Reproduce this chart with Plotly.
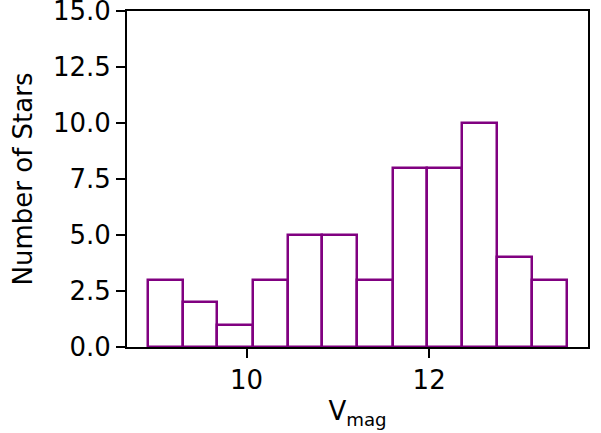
import plotly.graph_objects as go

# Histogram of stellar V magnitudes (pre-binned)
bin_edges = [8.92, 9.30, 9.68, 10.07, 10.45, 10.83, 11.21,
             11.60, 11.98, 12.36, 12.74, 13.13, 13.51]
star_counts = [3, 2, 1, 3, 5, 5, 3, 8, 8, 10, 4, 3]

y_ticks = [0, 2.5, 5.0, 7.5, 10.0, 12.5, 15.0]
x_ticks = [10, 12]

lefts = bin_edges[:-1]
widths = [b - a for a, b in zip(bin_edges[:-1], bin_edges[1:])]

FONT = "DejaVu Sans"
FSIZE = 26
PURPLE = "#800080"

fig = go.Figure(
    go.Bar(
        x=lefts,
        y=star_counts,
        width=widths,
        offset=0,
        marker=dict(color="white", line=dict(color=PURPLE, width=2.5)),
        hoverinfo="skip",
    )
)

axis_common = dict(
    showline=True,
    linecolor="black",
    linewidth=2,
    mirror=True,
    showgrid=False,
    zeroline=False,
    ticks="outside",
    ticklen=9,
    tickwidth=2,
    tickcolor="black",
    automargin=False,
    ticklabeloverflow="allow",
    tickfont=dict(family=FONT, size=FSIZE, color="black"),
)

fig.update_layout(
    width=601,
    height=433,
    margin=dict(l=127, r=13, t=11, b=86),
    paper_bgcolor="white",
    plot_bgcolor="white",
    showlegend=False,
    bargap=0,
    font=dict(family=FONT, size=FSIZE, color="black"),
    xaxis=dict(
        range=[8.69, 13.74],
        tickvals=x_ticks,
        ticktext=[str(t) for t in x_ticks],
        title=dict(text="V<sub>mag</sub>", standoff=8,
                   font=dict(family=FONT, size=FSIZE, color="black")),
        **axis_common,
    ),
    yaxis=dict(
        range=[0, 15],
        tickvals=y_ticks,
        ticktext=[f"{t:.1f}" for t in y_ticks],
        title=dict(text="Number of Stars", standoff=13,
                   font=dict(family=FONT, size=FSIZE, color="black")),
        **axis_common,
    ),
)

fig.write_html("out.html")
